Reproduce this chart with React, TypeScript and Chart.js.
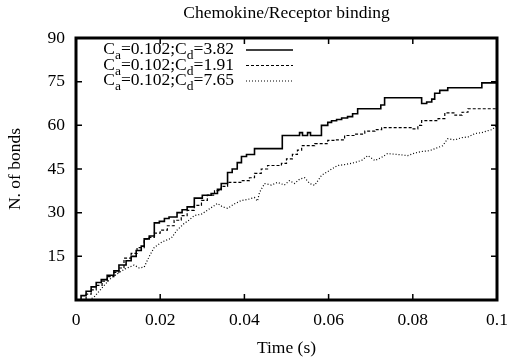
import React, { useEffect, useRef } from "react";
import { Chart, registerables } from "chart.js";

Chart.register(...registerables);

const TITLE = "Chemokine/Receptor binding";
const X_TITLE = "Time (s)";
const Y_TITLE = "N. of bonds";
const X_TICKS = [0, 0.02, 0.04, 0.06, 0.08, 0.1];
const Y_TICKS = [0, 15, 30, 45, 60, 75, 90];

// Series 1: Ca=0.102; Cd=3.82 (solid)
const solidX = [0, 0.0012, 0.0024, 0.0036, 0.0048, 0.006, 0.0074, 0.009, 0.0102, 0.0119, 0.0131, 0.0143, 0.0155, 0.0162, 0.0174, 0.0186, 0.0198, 0.021, 0.0221, 0.024, 0.0252, 0.0264, 0.0281, 0.03, 0.0321, 0.0336, 0.0345, 0.036, 0.0371, 0.0383, 0.0393, 0.0405, 0.0424, 0.0479, 0.049, 0.0524, 0.0531, 0.0538, 0.055, 0.0557, 0.0571, 0.0583, 0.0598, 0.0607, 0.0619, 0.0631, 0.0645, 0.0657, 0.0669, 0.0714, 0.0724, 0.0733, 0.0812, 0.0821, 0.0833, 0.0845, 0.0852, 0.0864, 0.0883, 0.0955, 0.0964, 0.1];
const solidY = [0, 1.5, 3, 4.5, 6, 7, 8.5, 10, 12, 13.5, 15, 17, 18.5, 21, 22, 26.5, 27, 28, 28.5, 30, 31, 32, 35, 36, 36.6, 38, 40, 43.8, 45, 47.2, 49.3, 50, 52, 52, 56.5, 56.5, 57.5, 56.5, 57.5, 56.5, 56.5, 60, 61, 61.6, 62, 62.5, 63, 64, 65.7, 65.7, 67, 69.5, 69.5, 67.5, 68, 69, 71, 72, 72.9, 72.9, 74.6, 74.6];

// Series 2: Ca=0.102; Cd=1.91 (dashed)
const dashedX = [0, 0.0012, 0.0024, 0.0036, 0.0048, 0.0062, 0.0074, 0.009, 0.0102, 0.0114, 0.0131, 0.0145, 0.0162, 0.0174, 0.0186, 0.02, 0.0217, 0.0233, 0.025, 0.0264, 0.0281, 0.0298, 0.0312, 0.0329, 0.0345, 0.036, 0.0395, 0.0412, 0.0424, 0.044, 0.0455, 0.0488, 0.05, 0.0514, 0.0526, 0.0536, 0.0567, 0.0598, 0.0614, 0.0638, 0.0662, 0.0686, 0.0710, 0.0726, 0.0774, 0.0798, 0.0812, 0.0821, 0.086, 0.0876, 0.09, 0.0917, 0.0931, 0.1];
const dashedY = [0, 0, 2, 3.5, 5, 6.5, 8, 9.5, 11, 14.4, 16, 18, 21, 21.5, 23, 24, 25.5, 27.4, 29, 30.8, 32.5, 34.2, 36, 37.6, 39, 40.4, 41, 42, 43.5, 45, 46.2, 46.9, 48.5, 50, 51.5, 53, 53.7, 54.8, 55, 56.5, 57, 58, 58.5, 59.2, 59.2, 58.8, 60, 61.6, 62.3, 64.3, 63.5, 64.5, 65.7, 65.7];

// Series 3: Ca=0.102; Cd=7.65 (dotted)
const dottedX = [0.0031, 0.0043, 0.0055, 0.0067, 0.0083, 0.0098, 0.0114, 0.0138, 0.015, 0.0162, 0.0174, 0.0186, 0.0205, 0.0226, 0.024, 0.0257, 0.0269, 0.0281, 0.0298, 0.0312, 0.0324, 0.0336, 0.0348, 0.036, 0.0376, 0.0393, 0.0407, 0.0424, 0.0431, 0.0436, 0.0448, 0.0464, 0.0479, 0.0495, 0.0507, 0.0519, 0.0531, 0.0543, 0.0555, 0.0567, 0.0583, 0.0602, 0.0621, 0.0638, 0.0662, 0.0679, 0.0693, 0.0710, 0.0726, 0.074, 0.0764, 0.0788, 0.0805, 0.0821, 0.084, 0.0860, 0.0871, 0.0883, 0.09, 0.0917, 0.0931, 0.0948, 0.0964, 0.0979, 0.0988, 0.1];
const dottedY = [0, 1, 3, 5, 7.5, 9, 10.5, 12, 11, 11.3, 15, 18.1, 20, 21.2, 24, 26.3, 27.5, 29, 29.5, 30.8, 32, 33.2, 32, 31.5, 33, 34.2, 34.5, 35.2, 34, 37, 40, 39.5, 40.4, 39.5, 41, 40, 41.5, 42, 40, 39.4, 42.8, 44.5, 46.2, 46.5, 47.2, 48, 49.6, 47.9, 49, 50.3, 50, 49.6, 50.5, 51, 51.3, 52.4, 53, 55.4, 55, 55.8, 56, 57.2, 57.5, 58.2, 58.5, 60];

const SERIES = [
  { sub1: "a", sub2: "d", pre: "=0.102;C", post: "=3.82", xs: solidX, ys: solidY, dash: [] as number[], width: 1.6, stepped: true },
  { sub1: "a", sub2: "d", pre: "=0.102;C", post: "=1.91", xs: dashedX, ys: dashedY, dash: [3, 2], width: 1.2, stepped: true },
  { sub1: "a", sub2: "d", pre: "=0.102;C", post: "=7.65", xs: dottedX, ys: dottedY, dash: [1, 2], width: 1.2, stepped: false },
];

const FONT = "'Liberation Serif', 'Times New Roman', serif";
const FS = 17.5;

const decorPlugin = {
  id: "decor",
  afterDraw(chart: any) {
    const ctx = chart.ctx as CanvasRenderingContext2D;
    const { left, right, top, bottom } = chart.chartArea;
    const xs = chart.scales.x;
    const ys = chart.scales.y;
    ctx.save();
    ctx.strokeStyle = "#000";
    ctx.fillStyle = "#000";
    ctx.lineWidth = 1.5;
    ctx.setLineDash([]);
    const tl = 6;
    X_TICKS.forEach((v) => {
      const px = xs.getPixelForValue(v);
      ctx.beginPath();
      ctx.moveTo(px, bottom);
      ctx.lineTo(px, bottom - tl);
      ctx.moveTo(px, top);
      ctx.lineTo(px, top + tl);
      ctx.stroke();
    });
    Y_TICKS.forEach((v) => {
      const py = ys.getPixelForValue(v);
      ctx.beginPath();
      ctx.moveTo(left, py);
      ctx.lineTo(left + tl, py);
      ctx.moveTo(right, py);
      ctx.lineTo(right - tl, py);
      ctx.stroke();
    });
    ctx.lineWidth = 3;
    ctx.strokeRect(left, top, right - left, bottom - top);

    ctx.font = `${FS}px ${FONT}`;
    ctx.textAlign = "center";
    ctx.textBaseline = "middle";
    ctx.fillText(TITLE, (left + right) / 2, 13);
    ctx.fillText(X_TITLE, (left + right) / 2, 348);
    ctx.save();
    ctx.translate(15, (top + bottom) / 2);
    ctx.rotate(-Math.PI / 2);
    ctx.fillText(Y_TITLE, 0, 0);
    ctx.restore();

    const big = `${FS}px ${FONT}`;
    const small = `13.5px ${FONT}`;
    const textRight = 234;
    const lineX0 = 246;
    const lineX1 = 293;
    SERIES.forEach((s, i) => {
      const base = 54 + i * 15.5;
      const parts = [
        { t: "C", f: big, dy: 0 },
        { t: s.sub1, f: small, dy: 5 },
        { t: s.pre, f: big, dy: 0 },
        { t: s.sub2, f: small, dy: 5 },
        { t: s.post, f: big, dy: 0 },
      ];
      let total = 0;
      parts.forEach((p) => {
        ctx.font = p.f;
        total += ctx.measureText(p.t).width;
      });
      let x = textRight - total;
      ctx.textAlign = "left";
      ctx.textBaseline = "alphabetic";
      parts.forEach((p) => {
        ctx.font = p.f;
        ctx.fillText(p.t, x, base + p.dy);
        x += ctx.measureText(p.t).width;
      });
      ctx.beginPath();
      ctx.lineWidth = s.width;
      ctx.setLineDash(s.dash);
      ctx.moveTo(lineX0, base - 4);
      ctx.lineTo(lineX1, base - 4);
      ctx.stroke();
      ctx.setLineDash([]);
    });
    ctx.restore();
  },
};

export default function App() {
  const ref = useRef<HTMLCanvasElement>(null);
  useEffect(() => {
    if (!ref.current) return;
    const chart = new Chart(ref.current, {
      type: "line",
      data: {
        datasets: SERIES.map((s) => ({
          label: s.post,
          data: s.xs.map((x, i) => ({ x, y: s.ys[i] })),
          borderColor: "#000",
          borderWidth: s.width,
          borderDash: s.dash,
          pointRadius: 0,
          fill: false,
          tension: 0,
          stepped: s.stepped,
        })),
      },
      options: {
        animation: false,
        responsive: false,
        devicePixelRatio: 1,
        layout: { padding: { top: 38, right: 11, left: 0, bottom: 0 } },
        plugins: {
          legend: { display: false },
          title: { display: false },
          tooltip: { enabled: false },
        },
        scales: {
          x: {
            type: "linear",
            min: 0,
            max: 0.1,
            afterBuildTicks: (s: any) => {
              s.ticks = X_TICKS.map((v) => ({ value: v }));
            },
            ticks: {
              color: "#000",
              font: { family: FONT, size: FS },
              padding: 10,
              maxRotation: 0,
              callback: (v: any) => String(Number(Number(v).toFixed(3))),
            },
            grid: { display: false, drawTicks: false },
            border: { display: false },
            afterFit: (s: any) => {
              s.height = 60;
              s.paddingLeft = 0;
              s.paddingRight = 0;
            },
          },
          y: {
            min: 0,
            max: 90,
            afterBuildTicks: (s: any) => {
              s.ticks = Y_TICKS.map((v) => ({ value: v }));
            },
            ticks: {
              color: "#000",
              font: { family: FONT, size: FS },
              padding: 11,
              callback: (v: any) => (Number(v) === 0 ? "" : String(v)),
            },
            grid: { display: false, drawTicks: false },
            border: { display: false },
            afterFit: (s: any) => {
              s.width = 76;
            },
          },
        },
      },
      plugins: [decorPlugin],
    } as any);
    return () => chart.destroy();
  }, []);
  return (
    <div style={{ position: "fixed", left: 0, top: 0, width: 508, height: 360, background: "#fff" }}>
      <canvas ref={ref} width={508} height={360} />
    </div>
  );
}
